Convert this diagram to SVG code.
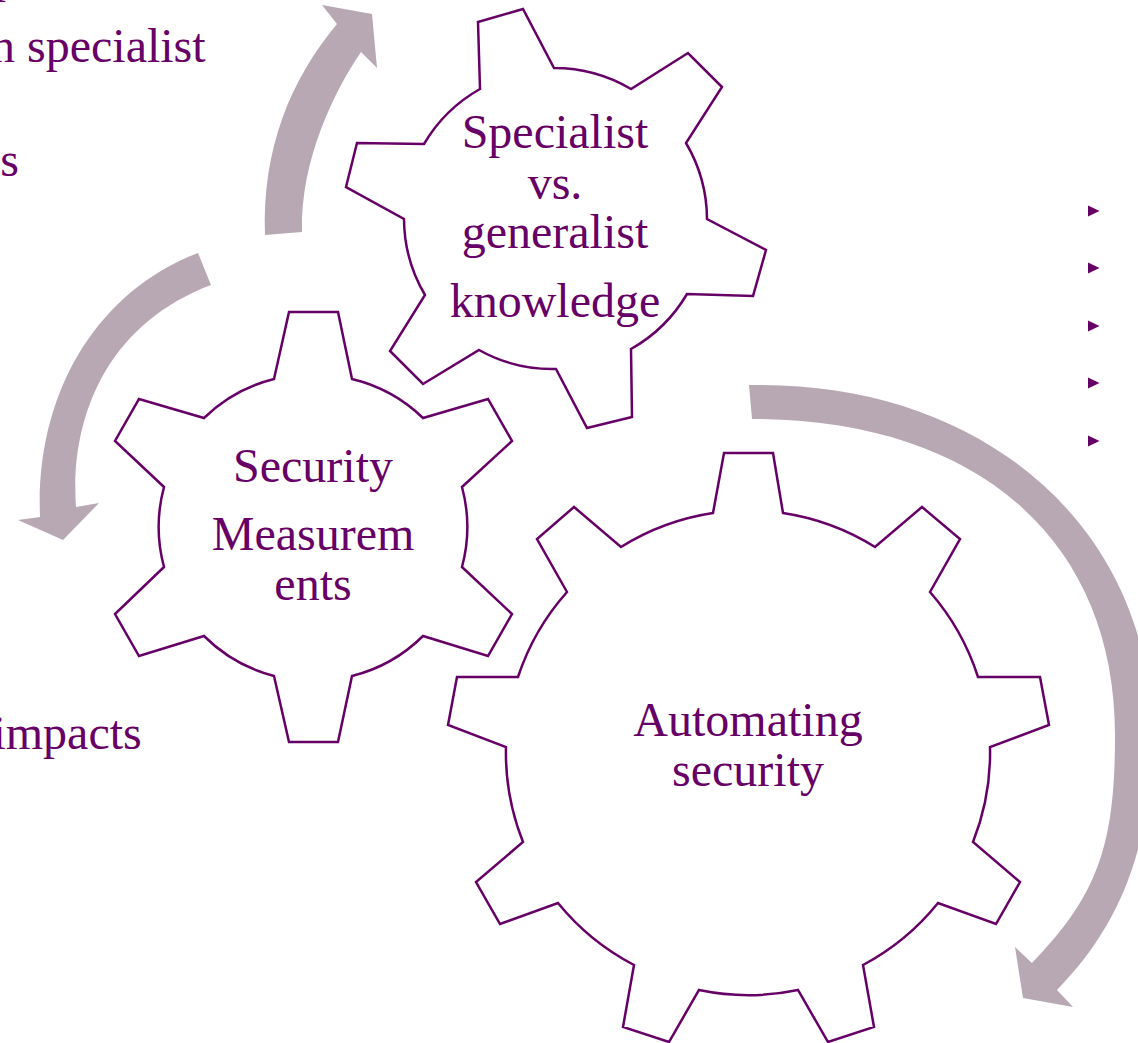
<svg xmlns="http://www.w3.org/2000/svg" width="1138" height="1043" viewBox="0 0 1138 1043">
<style>
.gear{fill:#ffffff;stroke:#660066;stroke-width:2.5;stroke-linejoin:miter}
.lbl{font-family:"Liberation Serif","Times New Roman",serif;font-size:48px;fill:#660066;text-anchor:middle}
.side{font-family:"Liberation Serif","Times New Roman",serif;font-size:48px;fill:#660066}
.arrow{fill:#B8A8B4}
.bullet{fill:#660066}
</style>
<defs>
<polygon id="tri" points="0,-5.5 11.5,0 0,5.5"/>
</defs>
<rect x="0" y="0" width="1138" height="1043" fill="#ffffff"/>
<g id="side-text">
<text class="side" x="-6" y="-8">p</text>
<text class="side" x="-9" y="62">n specialist</text>
<text class="side" x="-21" y="176">es</text>
<text class="side" x="-7.6" y="749">impacts</text>
</g>
<g id="connectors">
<path class="arrow" d="M265,235 C262,150 290,80 337,24 L322,5 L372,14 L377,68 L361,52 C335,90 300,160 302,232 Z"/>
<path class="arrow" d="M198,253 C100,290 35,390 40,517 L18,520 L63,540 L99,503 L76,507 C70,420 105,325 211,285 Z"/>
<path class="arrow" d="M749,385 C985,380 1152,530 1152,735 C1152,850 1117.5,928.4 1057,990 L1073,1007 L1023,998 L1015,947 L1032,963 C1098,895 1115,845 1115,735 C1115,540 977,419 752,419 Z"/>
</g>
<g id="gear-specialist">
<path class="gear" d="M480,89 L478,22 L523,9 L554,68 A151,151 0 0 1 631,89 L688,53 L722,87 L686,143 A151,151 0 0 1 707,219 L766,250 L753,296 L687,294 A151,151 0 0 1 631,349 L632,417 L587,428 L556,369 A151,151 0 0 1 479,350 L423,384 L390,351 L425,295 A151,151 0 0 1 404,219 L346,187 L357,143 L424,144 A151,151 0 0 1 480,89 Z"/>
<text class="lbl" x="555" y="148">Specialist</text>
<text class="lbl" x="555" y="199">vs.</text>
<text class="lbl" x="555" y="248">generalist</text>
<text class="lbl" x="555" y="317">knowledge</text>
</g>
<g id="gear-measurements">
<path class="gear" d="M274,379 L289,312 L338,312 L352,379 A154,154 0 0 1 423,418 L488,399 L512,441 L462,487 A154,154 0 0 1 462,567 L512,614 L488,656 L423,636 A154,154 0 0 1 352,676 L338,742 L289,742 L274,676 A154,154 0 0 1 204,636 L139,656 L115,614 L164,567 A154,154 0 0 1 164,487 L115,441 L139,399 L204,418 A154,154 0 0 1 274,379 Z"/>
<text class="lbl" x="313" y="482">Security</text>
<text class="lbl" x="313" y="550">Measurem</text>
<text class="lbl" x="313" y="600">ents</text>
</g>
<g id="gear-automating">
<path class="gear" d="M713,513 L724,453 L773,453 L783,513 A242,242 0 0 1 875,547 L922,507 L960,539 L930,592 A242,242 0 0 1 978,677 L1040,677 L1049,725 L990,747 A242,242 0 0 1 973,842 L1020,882 L996,924 L938,903 A242,242 0 0 1 863,965 L874,1027 L828,1042 L798,990 A242,242 0 0 1 699,990 L669,1042 L623,1027 L634,965 A242,242 0 0 1 558,903 L500,924 L476,882 L523,842 A242,242 0 0 1 506,747 L448,725 L457,677 L518,677 A242,242 0 0 1 567,592 L537,539 L574,507 L621,547 A242,242 0 0 1 713,513 Z"/>
<text class="lbl" x="748" y="736">Automating</text>
<text class="lbl" x="748" y="786">security</text>
</g>
<g id="bullets">
<use href="#tri" class="bullet" x="1088" y="211"/>
<use href="#tri" class="bullet" x="1088" y="268"/>
<use href="#tri" class="bullet" x="1088" y="326"/>
<use href="#tri" class="bullet" x="1088" y="383"/>
<use href="#tri" class="bullet" x="1088" y="441"/>
</g>
</svg>
